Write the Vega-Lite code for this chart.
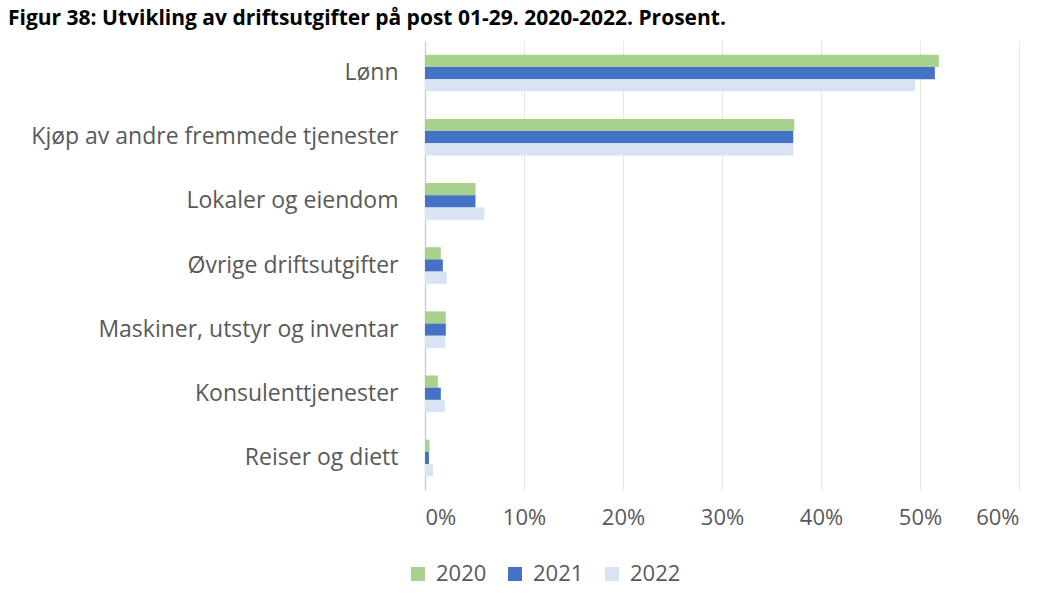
{
  "$schema": "https://vega.github.io/schema/vega-lite/v6.json",
  "width": 594,
  "height": 449,
  "autosize": "none",
  "padding": {"left": 425, "top": 41, "right": 37, "bottom": 118},
  "background": "white",
  "title": {
    "text": "Figur 38: Utvikling av driftsutgifter på post 01-29. 2020-2022. Prosent.",
    "anchor": "start",
    "frame": "group",
    "dx": -417,
    "offset": -5,
    "baseline": "alphabetic",
    "font": "Open Sans",
    "fontSize": 21,
    "fontWeight": "bold",
    "color": "#000000"
  },
  "data": {
    "values": [
      {"post": "Lønn", "year": "2020", "value": 51.9},
      {"post": "Lønn", "year": "2021", "value": 51.5},
      {"post": "Lønn", "year": "2022", "value": 49.5},
      {"post": "Kjøp av andre fremmede tjenester", "year": "2020", "value": 37.3},
      {"post": "Kjøp av andre fremmede tjenester", "year": "2021", "value": 37.2},
      {"post": "Kjøp av andre fremmede tjenester", "year": "2022", "value": 37.2},
      {"post": "Lokaler og eiendom", "year": "2020", "value": 5.1},
      {"post": "Lokaler og eiendom", "year": "2021", "value": 5.1},
      {"post": "Lokaler og eiendom", "year": "2022", "value": 6.0},
      {"post": "Øvrige driftsutgifter", "year": "2020", "value": 1.6},
      {"post": "Øvrige driftsutgifter", "year": "2021", "value": 1.8},
      {"post": "Øvrige driftsutgifter", "year": "2022", "value": 2.2},
      {"post": "Maskiner, utstyr og inventar", "year": "2020", "value": 2.1},
      {"post": "Maskiner, utstyr og inventar", "year": "2021", "value": 2.1},
      {"post": "Maskiner, utstyr og inventar", "year": "2022", "value": 2.05},
      {"post": "Konsulenttjenester", "year": "2020", "value": 1.3},
      {"post": "Konsulenttjenester", "year": "2021", "value": 1.6},
      {"post": "Konsulenttjenester", "year": "2022", "value": 2.0},
      {"post": "Reiser og diett", "year": "2020", "value": 0.45},
      {"post": "Reiser og diett", "year": "2021", "value": 0.4},
      {"post": "Reiser og diett", "year": "2022", "value": 0.8}
    ]
  },
  "mark": {"type": "bar", "cornerRadius": 0},
  "encoding": {
    "y": {
      "field": "post",
      "type": "nominal",
      "sort": ["Lønn", "Kjøp av andre fremmede tjenester", "Lokaler og eiendom", "Øvrige driftsutgifter", "Maskiner, utstyr og inventar", "Konsulenttjenester", "Reiser og diett"],
      "scale": {"paddingInner": 0.43, "paddingOuter": 0.215},
      "axis": {
        "title": null,
        "ticks": false,
        "domain": true,
        "domainColor": "#d0d0d0",
        "domainWidth": 1.5,
        "labelFont": "Open Sans",
        "labelFontSize": 23,
        "labelColor": "#595959",
        "labelPadding": 27,
        "labelLimit": 500
      }
    },
    "yOffset": {
      "field": "year",
      "type": "nominal",
      "sort": ["2020", "2021", "2022"],
      "scale": {"paddingInner": 0, "paddingOuter": 0}
    },
    "x": {
      "field": "value",
      "type": "quantitative",
      "scale": {"domain": [0, 60], "nice": false},
      "axis": {
        "title": null,
        "values": [0, 10, 20, 30, 40, 50, 60],
        "labelExpr": "datum.value + '%'",
        "domain": false,
        "ticks": false,
        "grid": true,
        "gridColor": "#e6e6e6",
        "gridWidth": 1,
        "labelFont": "Open Sans",
        "labelFontSize": 22,
        "labelColor": "#595959",
        "labelPadding": 17
      }
    },
    "color": {
      "field": "year",
      "type": "nominal",
      "scale": {"domain": ["2020", "2021", "2022"], "range": ["#A9D18E", "#4472C4", "#DAE3F3"]},
      "legend": {
        "title": null,
        "orient": "none",
        "direction": "horizontal",
        "legendX": -18,
        "legendY": 522,
        "symbolType": "square",
        "symbolSize": 196,
        "symbolStrokeWidth": 0,
        "labelFont": "Open Sans",
        "labelFontSize": 22,
        "labelColor": "#595959",
        "labelOffset": 7,
        "columnPadding": 17
      }
    }
  },
  "config": {
    "view": {"stroke": null}
  }
}
